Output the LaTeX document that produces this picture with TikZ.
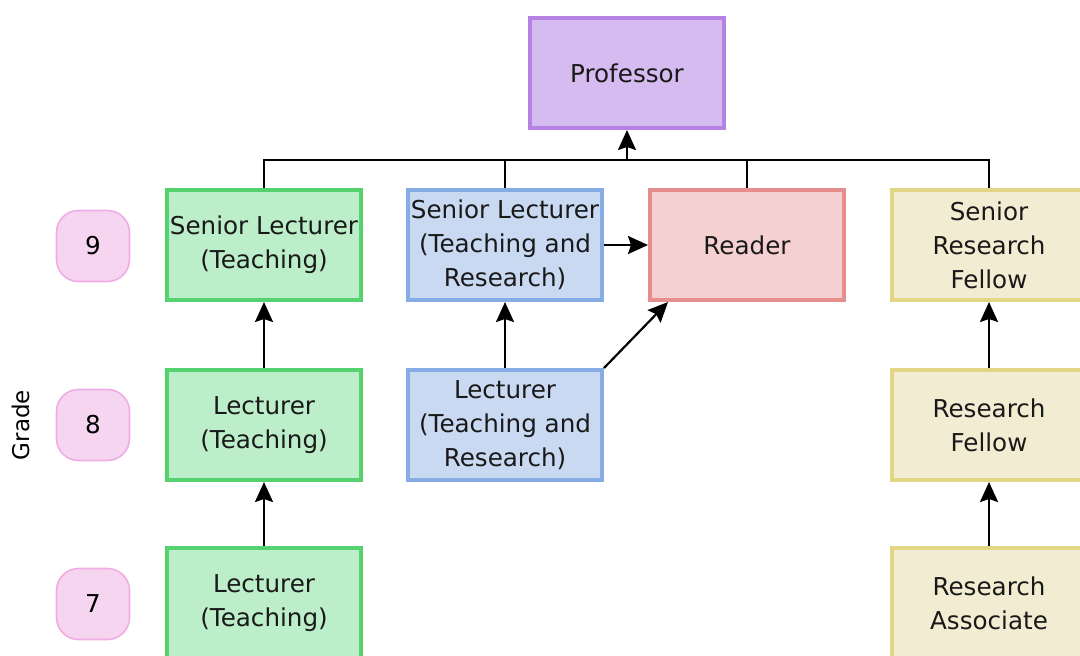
\documentclass[tikz,border=0pt]{standalone}
\usepackage{fontspec}
\setmainfont{DejaVu Sans}
\usetikzlibrary{arrows.meta, positioning, calc}

\definecolor{profFill}{RGB}{214,187,240}
\definecolor{profLine}{RGB}{181,130,228}
\definecolor{teachFill}{RGB}{188,238,202}
\definecolor{teachLine}{RGB}{84,210,112}
\definecolor{resFill}{RGB}{201,217,241}
\definecolor{resLine}{RGB}{134,172,230}
\definecolor{readFill}{RGB}{245,208,208}
\definecolor{readLine}{RGB}{230,142,142}
\definecolor{fellFill}{RGB}{242,236,210}
\definecolor{fellLine}{RGB}{226,214,132}
\definecolor{gradeFill}{RGB}{245,213,240}
\definecolor{gradeLine}{RGB}{240,172,228}

\begin{document}
\begin{tikzpicture}[x=0.5pt, y=-0.5pt, line width=1.1pt,
    promo/.style={-{Stealth[length=10pt,width=9pt,inset=1.5pt]}},
    post/.style={draw, line width=2pt, minimum width=97pt, minimum height=55pt,
        align=center, inner sep=1pt, font=\fontsize{12.3}{17}\selectfont, text=black!90},
    grade/.style={draw=gradeLine, fill=gradeFill, line width=0.8pt, rounded corners=11pt,
        minimum width=36.5pt, minimum height=35.5pt, font=\fontsize{12.3}{15}\selectfont},
    teach/.style={post, draw=teachLine, fill=teachFill},
    res/.style={post, draw=resLine, fill=resFill},
    fell/.style={post, draw=fellLine, fill=fellFill}]
\clip (0, 0) rectangle (1080, 655);
\useasboundingbox (0, 0) rectangle (1080, 655);

% grades
\node[grade] (g9) at (93, 246) {9};
\node[grade] (g8) at (93, 425) {8};
\node[grade] (g7) at (93, 604) {7};
\node[rotate=90, font=\fontsize{11.5}{14}\selectfont] (gradelabel) at (21, 425) {Grade};

% posts
\node[post, draw=profLine, fill=profFill] (prof) at (627, 73) {Professor};
\node[teach] (slt) at (264, 245) {Senior Lecturer\\(Teaching)};
\node[teach] (lt8) at (264, 425) {Lecturer\\(Teaching)};
\node[teach] (lt7) at (264, 603) {Lecturer\\(Teaching)};
\node[res] (sltr) at (505, 245) {Senior Lecturer\\(Teaching and\\Research)};
\node[res] (ltr) at (505, 425) {Lecturer\\(Teaching and\\Research)};
\node[post, draw=readLine, fill=readFill] (reader) at (747, 245) {Reader};
\node[fell] (srf) at (989, 245) {Senior\\Research\\Fellow};
\node[fell] (rf) at (989, 425) {Research\\Fellow};
\node[fell] (ra) at (989, 603) {Research\\Associate};

% promotions
\coordinate (bus) at (627, 160);
\draw (slt.north) |- (bus) -| (srf.north);
\draw (sltr.north) |- (bus);
\draw (reader.north) |- (bus);
\draw[promo] (bus) -- (prof.south);
\draw[promo] (lt8) -- (slt);
\draw[promo] (lt7) -- (lt8);
\draw[promo] (ltr) -- (sltr);
\draw[promo] (sltr) -- (reader);
\draw[promo] (ltr.north east) -- ($(reader.south west)+(20, 0)$);
\draw[promo] (rf) -- (srf);
\draw[promo] (ra) -- (rf);
\end{tikzpicture}
\end{document}
